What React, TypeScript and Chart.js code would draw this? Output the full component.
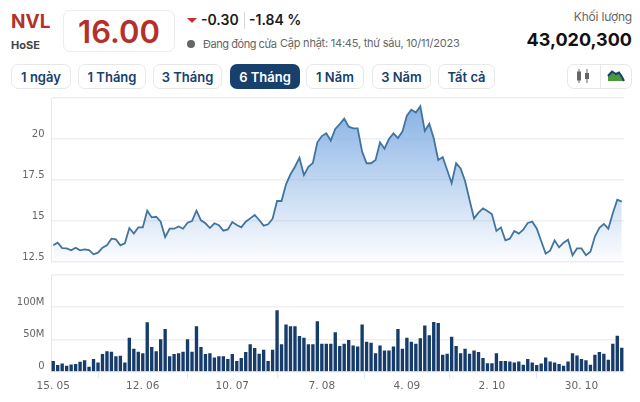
import { useEffect, useRef } from "react";
import { Chart, registerables } from "chart.js";

Chart.register(...registerables);

const prices = [
	13.52, 13.68, 13.35, 13.33, 13.21, 13.37, 13.21, 13.27, 13.23, 12.97, 13.07, 13.37, 13.52, 13.92, 13.88, 13.52,
	13.64, 14.57, 14.23, 14.61, 14.61, 15.63, 15.22, 15.26, 14.96, 14.02, 14.53, 14.53, 14.67, 14.53, 14.9, 15.0,
	15.63, 15.04, 14.86, 14.57, 14.86, 14.74, 14.41, 14.49, 14.94, 14.76, 14.61, 14.96, 15.16, 15.37, 15.06, 14.72,
	14.8, 15.14, 16.22, 16.22, 17.24, 17.85, 18.31, 18.86, 17.8, 18.31, 18.54, 19.8, 20.18, 20.35, 19.9, 20.61,
	20.91, 21.24, 20.75, 20.65, 20.65, 19.23, 18.52, 18.52, 18.72, 19.8, 19.41, 20.0, 20.35, 20.06, 20.45, 21.42,
	21.79, 21.61, 21.99, 20.49, 20.93, 20.04, 18.72, 18.9, 18.11, 17.3, 18.52, 18.21, 17.44, 16.28, 15.16, 15.51,
	15.77, 15.61, 15.41, 14.39, 14.61, 13.82, 13.92, 14.39, 14.23, 14.47, 14.88, 14.96, 14.55, 13.78, 13.01, 13.19,
	13.82, 13.39, 13.68, 13.86, 12.91, 13.33, 13.33, 12.91, 13.13, 14.05, 14.59, 14.82, 14.53, 15.47, 16.3, 16.18,
];

// million shares
const volumes = [
	16, 9.4, 12, 8.3, 10.4, 11, 14.6, 17, 6.8, 18.8, 13.5, 26.6, 31, 30, 23, 24,
	13.5, 52, 35, 30, 28, 76, 37.5, 31, 49.5, 65.6, 23, 26.6, 28, 30, 49.5, 30,
	70, 37.5, 26.6, 28, 21.4, 23, 23, 18.8, 26.6, 16, 20.3, 29.7, 41.7, 36, 27, 33.3,
	16, 33.3, 94.8, 41.7, 72.4, 69.8, 69.8, 54.7, 52, 41.7, 41.7, 77.6, 42.7, 42.7, 42.7, 60.4,
	39, 42.7, 48.4, 40, 38.5, 72.4, 45.8, 44.3, 28, 40, 32.3, 32.3, 38.5, 65.6, 35, 52,
	45.8, 42.7, 51, 70.8, 56, 76.6, 75, 25.5, 27, 53.6, 39, 28, 35, 27, 32.3, 29.7,
	20.3, 12.5, 12.5, 28, 16, 16, 15, 13.5, 15, 10, 18.8, 13.5, 9.4, 12, 21.4, 15,
	13.5, 11, 8.3, 15, 28, 24.5, 18.8, 17, 10, 25.5, 29.7, 27, 17.7, 42.7, 55, 36.5,
];

const sessions = prices.map((_, i) => String(i));
const dateTickIndex = [0, 20, 40, 60, 79, 98, 118];
const dateTickText = ["15. 05", "12. 06", "10. 07", "7. 08", "4. 09", "2. 10", "30. 10"];
const tabs = ["1 ngày", "1 Tháng", "3 Tháng", "6 Tháng", "1 Năm", "3 Năm", "Tất cả"];
const tabLeft = [11, 78, 153, 230, 306, 372, 438];
const tabWidth = [60, 68, 69, 70, 58, 59, 57];

const yFont = { family: "'DejaVu Sans'", size: 10 };
const xFont = { family: "'DejaVu Sans'", size: 10.5 };
const gridColor = "#efeff1";
const axisColor = "#e1e7f5";
const textColor = "#666666";

// keep the plot area where we put it, labels may overhang
const fixBox = (s, key, size) => {
	s[key] = size;
	s.paddingTop = 0;
	s.paddingBottom = 0;
	s.paddingLeft = 0;
	s.paddingRight = 0;
};

const Label = ({ x, y, children, style }: any) => (
	<div style={{ position: "absolute", left: x, top: y, whiteSpace: "nowrap", lineHeight: 1, ...style }}>{children}</div>
);

export default function App() {
	const priceRef = useRef<HTMLCanvasElement | null>(null);
	const volumeRef = useRef<HTMLCanvasElement | null>(null);

	useEffect(() => {
		const priceChart = new Chart(priceRef.current, {
			type: "line",
			data: {
				labels: sessions,
				datasets: [
					{
						data: prices,
						borderColor: "#41749f",
						borderWidth: 1.8,
						pointRadius: 0,
						tension: 0,
						fill: "start",
						backgroundColor: (ctx) => {
							const area = ctx.chart.chartArea;
							if (!area) return "transparent";
							const g = ctx.chart.ctx.createLinearGradient(0, area.top, 0, area.bottom);
							g.addColorStop(0, "rgba(124,170,226,0.95)");
							g.addColorStop(1, "rgba(124,170,226,0.02)");
							return g;
						},
					},
				],
			},
			options: {
				animation: false,
				responsive: false,
				layout: { padding: { top: 8, bottom: 8, left: 0, right: 16 } },
				plugins: { legend: { display: false }, tooltip: { enabled: false } },
				scales: {
					x: { display: false, offset: true },
					y: {
						min: 12.5,
						max: 22.5,
						afterFit: (s) => fixBox(s, "width", 51),
						grid: { color: gridColor, lineWidth: 1.4, drawTicks: false },
						border: { color: axisColor },
						ticks: {
							stepSize: 2.5,
							font: yFont,
							color: textColor,
							padding: 6.5,
							labelOffset: -5,
							callback: (v) => (v === 22.5 ? "" : String(v)),
						},
					},
				},
			},
		});

		const volumeChart = new Chart(volumeRef.current, {
			type: "bar",
			data: {
				labels: sessions,
				datasets: [{ data: volumes, backgroundColor: "#163c6b", barThickness: 2.7 }],
			},
			options: {
				animation: false,
				responsive: false,
				layout: { padding: { top: 7, bottom: 0.5, left: 0, right: 16 } },
				plugins: { legend: { display: false }, tooltip: { enabled: false } },
				scales: {
					x: {
						offset: true,
						afterFit: (s) => fixBox(s, "height", 30),
						afterBuildTicks: (s) => {
							s.ticks = dateTickIndex.map((value) => ({ value }));
						},
						grid: { drawOnChartArea: false, tickColor: axisColor, tickLength: 7 },
						border: { color: axisColor },
						ticks: {
							autoSkip: false,
							maxRotation: 0,
							font: xFont,
							color: textColor,
							padding: 1,
							callback: (v) => dateTickText[dateTickIndex.indexOf(Number(v))],
						},
					},
					y: {
						min: 0,
						max: 150,
						afterFit: (s) => fixBox(s, "width", 51),
						grid: { color: gridColor, lineWidth: 1.4, drawTicks: false },
						border: { color: axisColor },
						ticks: {
							stepSize: 50,
							font: yFont,
							color: textColor,
							padding: 6.5,
							labelOffset: -5,
							callback: (v) => (v === 150 ? "" : v === 0 ? "0" : v + "M"),
						},
					},
				},
			},
		});

		return () => {
			priceChart.destroy();
			volumeChart.destroy();
		};
	}, []);

	return (
		<div style={{ position: "relative", width: 640, height: 402, background: "#fff", overflow: "hidden", fontFamily: "Inter, sans-serif" }}>
			<style>{"body{margin:0}"}</style>

			<Label x={11} y={12} style={{ fontSize: 19, fontWeight: 700, color: "#b5302a" }}>NVL</Label>
			<Label x={11} y={40} style={{ fontSize: 11, fontWeight: 700, color: "#444" }}>HoSE</Label>
			<div style={{ position: "absolute", left: 63, top: 10, width: 110, height: 40, border: "1px solid #ececec", borderRadius: 7, display: "flex", alignItems: "center", justifyContent: "center", fontSize: 31, fontWeight: 600, color: "#b5302a" }}>
				16.00
			</div>

			<div style={{ position: "absolute", left: 187, top: 18, width: 0, height: 0, borderLeft: "5px solid transparent", borderRight: "5px solid transparent", borderTop: "5px solid #c0322b" }} />
			<Label x={201} y={13} style={{ fontSize: 14, fontWeight: 600, color: "#1a1a1a" }}>-0.30</Label>
			<div style={{ position: "absolute", left: 244, top: 12, width: 1, height: 17, background: "#d8d8d8" }} />
			<Label x={249} y={13} style={{ fontSize: 14, fontWeight: 600, color: "#1a1a1a" }}>-1.84 %</Label>

			<div style={{ position: "absolute", left: 187, top: 40, width: 8, height: 8, borderRadius: 4, background: "#666" }} />
			<Label x={203} y={39} style={{ fontSize: 11, letterSpacing: -0.45, color: "#666" }}>Đang đóng cửa</Label>
			<Label x={280} y={38} style={{ fontSize: 11, letterSpacing: -0.23, color: "#666" }}>Cập nhật: 14:45, thứ sáu, 10/11/2023</Label>

			<Label x={532} y={11} style={{ width: 100, textAlign: "right", fontSize: 12, letterSpacing: -0.2, color: "#666" }}>Khối lượng</Label>
			<Label x={512} y={31} style={{ width: 120, textAlign: "right", fontSize: 18, fontWeight: 700, color: "#111" }}>43,020,300</Label>

			{tabs.map((t, i) => (
				<div
					key={t}
					style={{
						position: "absolute",
						left: tabLeft[i],
						top: 64,
						width: tabWidth[i],
						height: 25,
						boxSizing: "border-box",
						border: i === 3 ? "none" : "1px solid #e8e8e8",
						borderRadius: 7,
						background: i === 3 ? "#17406d" : "#fff",
						color: i === 3 ? "#fff" : "#17406d",
						fontSize: 13,
						fontWeight: 600,
						display: "flex",
						alignItems: "center",
						justifyContent: "center",
					}}
				>
					{t}
				</div>
			))}

			<div style={{ position: "absolute", left: 567, top: 64, width: 65, height: 25, boxSizing: "border-box", border: "1px solid #e8e8e8", borderRadius: 7 }} />
			<div style={{ position: "absolute", left: 600, top: 65, width: 1, height: 23, background: "#e8e8e8" }} />
			<svg style={{ position: "absolute", left: 570, top: 66 }} width={60} height={20} viewBox="0 0 60 20">
				<path d="M9 3V17M17 3V17" stroke="#666" strokeWidth={1} />
				<rect x={7} y={5.5} width={4} height={9} fill="#666" />
				<rect x={15} y={7} width={4} height={6} fill="#666" />
				<path d="M38 10L42 5.5L46 8L49 6.5L52 11L54 15H38Z" fill="#4a9a3c" />
				<path d="M38 10L42 5.5L46 8L49 6.5L52 11L54 15" fill="none" stroke="#17406d" strokeWidth={2} />
			</svg>

			<canvas ref={priceRef} width={640} height={180} style={{ position: "absolute", left: 0, top: 90, width: 640, height: 180 }} />
			<canvas ref={volumeRef} width={640} height={134} style={{ position: "absolute", left: 0, top: 268, width: 640, height: 134 }} />
		</div>
	);
}
